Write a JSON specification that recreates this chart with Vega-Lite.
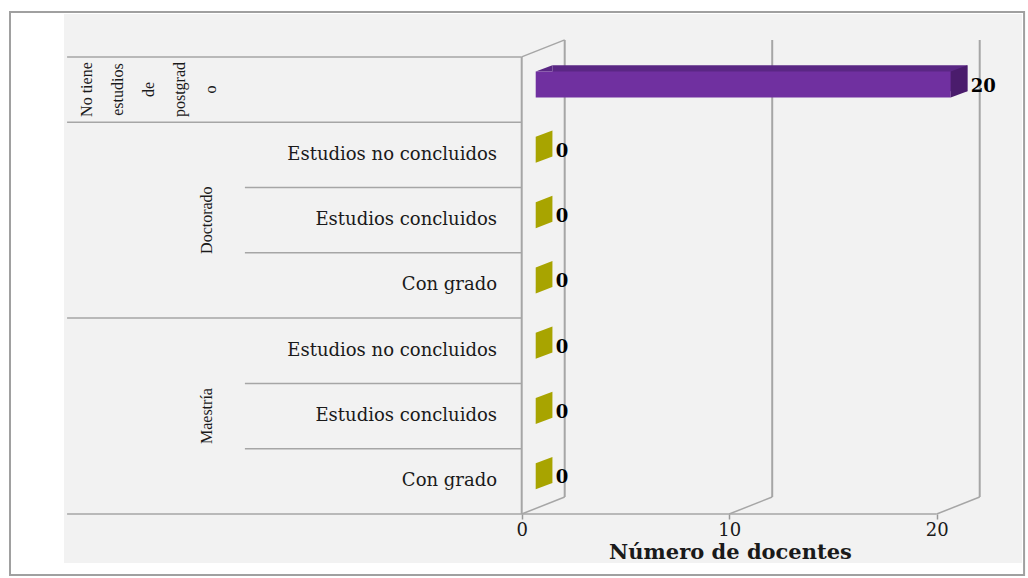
{
  "$schema": "https://vega.github.io/schema/vega-lite/v6.json",
  "width": 958,
  "height": 549,
  "autosize": "none",
  "padding": {"left": 64, "top": 14, "right": 6, "bottom": 15},
  "background": "#ffffff",
  "config": {"view": {"fill": "#f2f2f2", "stroke": null}, "text": {"font": "DejaVu Serif"}},
  "layer": [
    {
      "data": {"values": [{}]},
      "layer": [
        {"mark": {"type": "rule", "color": "#a6a6a6", "strokeWidth": 1.5},
         "encoding": {
           "x": {"datum": -21.91, "type": "quantitative", "scale": {"domain": [-22.058, 24.11], "nice": false, "zero": false}},
           "x2": {"datum": 0},
           "y": {"datum": 7, "type": "quantitative", "scale": {"domain": [-0.75, 7.657], "nice": false, "zero": false}, "axis": null}}},
        {"mark": {"type": "rule", "color": "#a6a6a6", "strokeWidth": 1.5},
         "encoding": {"x": {"datum": -21.91, "type": "quantitative"}, "x2": {"datum": 0}, "y": {"datum": 6, "type": "quantitative", "axis": null}}},
        {"mark": {"type": "rule", "color": "#a6a6a6", "strokeWidth": 1.5},
         "encoding": {"x": {"datum": -13.34, "type": "quantitative"}, "x2": {"datum": 0}, "y": {"datum": 5, "type": "quantitative", "axis": null}}},
        {"mark": {"type": "rule", "color": "#a6a6a6", "strokeWidth": 1.5},
         "encoding": {"x": {"datum": -13.34, "type": "quantitative"}, "x2": {"datum": 0}, "y": {"datum": 4, "type": "quantitative", "axis": null}}},
        {"mark": {"type": "rule", "color": "#a6a6a6", "strokeWidth": 1.5},
         "encoding": {"x": {"datum": -21.91, "type": "quantitative"}, "x2": {"datum": 0}, "y": {"datum": 3, "type": "quantitative", "axis": null}}},
        {"mark": {"type": "rule", "color": "#a6a6a6", "strokeWidth": 1.5},
         "encoding": {"x": {"datum": -13.34, "type": "quantitative"}, "x2": {"datum": 0}, "y": {"datum": 2, "type": "quantitative", "axis": null}}},
        {"mark": {"type": "rule", "color": "#a6a6a6", "strokeWidth": 1.5},
         "encoding": {"x": {"datum": -13.34, "type": "quantitative"}, "x2": {"datum": 0}, "y": {"datum": 1, "type": "quantitative", "axis": null}}},
        {"mark": {"type": "rule", "color": "#a6a6a6", "strokeWidth": 1.5},
         "encoding": {"x": {"datum": -21.91, "type": "quantitative"}, "x2": {"datum": 20}, "y": {"datum": 0, "type": "quantitative", "axis": null}}},
        {"mark": {"type": "rule", "color": "#a6a6a6", "strokeWidth": 2},
         "encoding": {"x": {"datum": 0, "type": "quantitative"}, "y": {"datum": 0, "type": "quantitative", "axis": null}, "y2": {"datum": 7}}},
        {"mark": {"type": "rule", "color": "#a6a6a6", "strokeWidth": 1.5},
         "encoding": {"x": {"datum": 0, "type": "quantitative"}, "x2": {"datum": 2.072}, "y": {"datum": 7, "type": "quantitative", "axis": null}, "y2": {"datum": 7.2603}}},
        {"mark": {"type": "rule", "color": "#a6a6a6", "strokeWidth": 2},
         "encoding": {"x": {"datum": 2.072, "type": "quantitative"}, "y": {"datum": 0.2603, "type": "quantitative", "axis": null}, "y2": {"datum": 7.2603}}},
        {"mark": {"type": "rule", "color": "#a6a6a6", "strokeWidth": 2},
         "encoding": {"x": {"datum": 12.072, "type": "quantitative"}, "y": {"datum": 0.2603, "type": "quantitative", "axis": null}, "y2": {"datum": 7.2603}}},
        {"mark": {"type": "rule", "color": "#a6a6a6", "strokeWidth": 2},
         "encoding": {"x": {"datum": 22.072, "type": "quantitative"}, "y": {"datum": 0.2603, "type": "quantitative", "axis": null}, "y2": {"datum": 7.2603}}},
        {"mark": {"type": "rule", "color": "#a6a6a6", "strokeWidth": 1.5},
         "encoding": {"x": {"datum": 0, "type": "quantitative"}, "x2": {"datum": 2.072}, "y": {"datum": 0, "type": "quantitative", "axis": null}, "y2": {"datum": 0.2603}}},
        {"mark": {"type": "rule", "color": "#a6a6a6", "strokeWidth": 1.5},
         "encoding": {"x": {"datum": 10, "type": "quantitative"}, "x2": {"datum": 12.072}, "y": {"datum": 0, "type": "quantitative", "axis": null}, "y2": {"datum": 0.2603}}},
        {"mark": {"type": "rule", "color": "#a6a6a6", "strokeWidth": 1.5},
         "encoding": {"x": {"datum": 20, "type": "quantitative"}, "x2": {"datum": 22.072}, "y": {"datum": 0, "type": "quantitative", "axis": null}, "y2": {"datum": 0.2603}}},
        {"mark": {"type": "rect", "filled": false, "stroke": "#a0a0a0", "strokeWidth": 2, "clip": false},
         "encoding": {"x": {"datum": -24.66, "type": "quantitative"}, "x2": {"datum": 24.21}, "y": {"datum": 7.688, "type": "quantitative", "axis": null}, "y2": {"datum": -0.934}}}
      ]
    },
    {
      "data": {"values": [
        {"categoria": "No tiene estudios de postgrado", "grupo": "No tiene estudios de postgrado", "nivel": "", "docentes": 20},
        {"categoria": "Doctorado: Estudios no concluidos", "grupo": "Doctorado", "nivel": "Estudios no concluidos", "docentes": 0},
        {"categoria": "Doctorado: Estudios concluidos", "grupo": "Doctorado", "nivel": "Estudios concluidos", "docentes": 0},
        {"categoria": "Doctorado: Con grado", "grupo": "Doctorado", "nivel": "Con grado", "docentes": 0},
        {"categoria": "Maestría: Estudios no concluidos", "grupo": "Maestría", "nivel": "Estudios no concluidos", "docentes": 0},
        {"categoria": "Maestría: Estudios concluidos", "grupo": "Maestría", "nivel": "Estudios concluidos", "docentes": 0},
        {"categoria": "Maestría: Con grado", "grupo": "Maestría", "nivel": "Con grado", "docentes": 0}
      ]},
      "layer": [
        {"mark": {"type": "bar", "height": 26, "xOffset": 14, "x2Offset": 14, "yOffset": -5, "opacity": 0},
         "encoding": {
           "x": {"field": "docentes", "type": "quantitative", "scale": {"domain": [-22.058, 24.11], "nice": false, "zero": false},
                 "axis": {"values": [0, 10, 20], "domain": false, "grid": false, "offset": -49, "ticks": true, "tickSize": 5, "tickColor": "#999999", "tickWidth": 1.5,
                          "labelFont": "DejaVu Serif", "labelFontSize": 18, "labelColor": "#1a1a1a", "labelPadding": 2, "labelFlush": false, "labelOverlap": false,
                          "title": "Número de docentes", "titleFont": "DejaVu Serif", "titleFontSize": 21, "titleFontWeight": "bold", "titleColor": "#1a1a1a",
                          "titleX": 666, "titleY": 38, "titleBaseline": "middle", "titleAlign": "center"}},
           "y": {"field": "categoria", "type": "nominal", "axis": null,
                 "scale": {"domain": ["No tiene estudios de postgrado", "Doctorado: Estudios no concluidos", "Doctorado: Estudios concluidos", "Doctorado: Con grado", "Maestría: Estudios no concluidos", "Maestría: Estudios concluidos", "Maestría: Con grado"],
                           "paddingInner": 0, "paddingOuter": 0.7037, "align": 0.4668}}}},
        {"mark": {"type": "bar", "height": 26, "xOffset": 30.7, "x2Offset": 30.7, "yOffset": -11.35},
         "encoding": {
           "x": {"field": "docentes", "type": "quantitative"},
           "y": {"field": "categoria", "type": "nominal", "axis": null},
           "color": {"condition": {"test": "datum.grupo === 'No tiene estudios de postgrado'", "value": "#5a2784"}, "value": "#8c8a00"}}},
        {"transform": [{"filter": "datum.docentes > 0"}],
         "mark": {"type": "point", "filled": true, "opacity": 1, "strokeWidth": 0, "size": 1600, "xOffset": 14, "yOffset": -5,
                  "shape": "M0,-0.65L0.835,-0.9675L0.835,-0.65Z"},
         "encoding": {
           "x": {"datum": 0, "type": "quantitative"},
           "y": {"field": "categoria", "type": "nominal", "axis": null},
           "color": {"condition": {"test": "datum.grupo === 'No tiene estudios de postgrado'", "value": "#5a2784"}, "value": "#8c8a00"}}},
        {"mark": {"type": "bar", "height": 26, "xOffset": 14, "x2Offset": 14, "yOffset": -5},
         "encoding": {
           "x": {"field": "docentes", "type": "quantitative"},
           "y": {"field": "categoria", "type": "nominal", "axis": null},
           "color": {"condition": {"test": "datum.grupo === 'No tiene estudios de postgrado'", "value": "#7030a0"}, "value": "#a8a400"}}},
        {"mark": {"type": "point", "filled": true, "opacity": 1, "strokeWidth": 0, "size": 1600, "xOffset": 14, "yOffset": -5,
                  "shape": "M0,-0.65L0.835,-0.9675L0.835,0.3325L0,0.65Z"},
         "encoding": {
           "x": {"field": "docentes", "type": "quantitative"},
           "y": {"field": "categoria", "type": "nominal", "axis": null},
           "color": {"condition": {"test": "datum.grupo === 'No tiene estudios de postgrado'", "value": "#4a1c6c"}, "value": "#a8a400"}}},
        {"mark": {"type": "text", "align": "left", "baseline": "middle", "dx": 34, "dy": -3, "font": "DejaVu Serif", "fontSize": 18, "fontWeight": "bold", "color": "#000000"},
         "encoding": {
           "x": {"field": "docentes", "type": "quantitative"},
           "y": {"field": "categoria", "type": "nominal", "axis": null},
           "text": {"field": "docentes", "type": "quantitative"}}},
        {"transform": [{"filter": "datum.nivel !== ''"}],
         "mark": {"type": "text", "align": "right", "baseline": "middle", "font": "DejaVu Serif", "fontSize": 18, "color": "#1a1a1a"},
         "encoding": {
           "x": {"datum": -1.19, "type": "quantitative"},
           "y": {"field": "categoria", "type": "nominal", "axis": null},
           "text": {"field": "nivel", "type": "nominal"}}},
        {"transform": [{"filter": "datum.nivel === 'Estudios concluidos'"}],
         "mark": {"type": "text", "align": "center", "baseline": "middle", "angle": 270, "font": "Liberation Serif", "fontSize": 16, "color": "#1a1a1a"},
         "encoding": {
           "x": {"datum": -15.16, "type": "quantitative"},
           "y": {"field": "categoria", "type": "nominal", "axis": null},
           "text": {"field": "grupo", "type": "nominal"}}},
        {"transform": [{"filter": "datum.grupo === 'No tiene estudios de postgrado'"}],
         "mark": {"type": "text", "align": "center", "baseline": "middle", "angle": 270, "font": "Liberation Serif", "fontSize": 16, "lineHeight": 31, "color": "#1a1a1a"},
         "encoding": {
           "x": {"datum": -20.96, "type": "quantitative"},
           "y": {"field": "categoria", "type": "nominal", "axis": null},
           "text": {"value": ["No tiene", "estudios", "de", "postgrad", "o"]}}}
      ]
    }
  ],
  "resolve": {"scale": {"y": "independent"}}
}
